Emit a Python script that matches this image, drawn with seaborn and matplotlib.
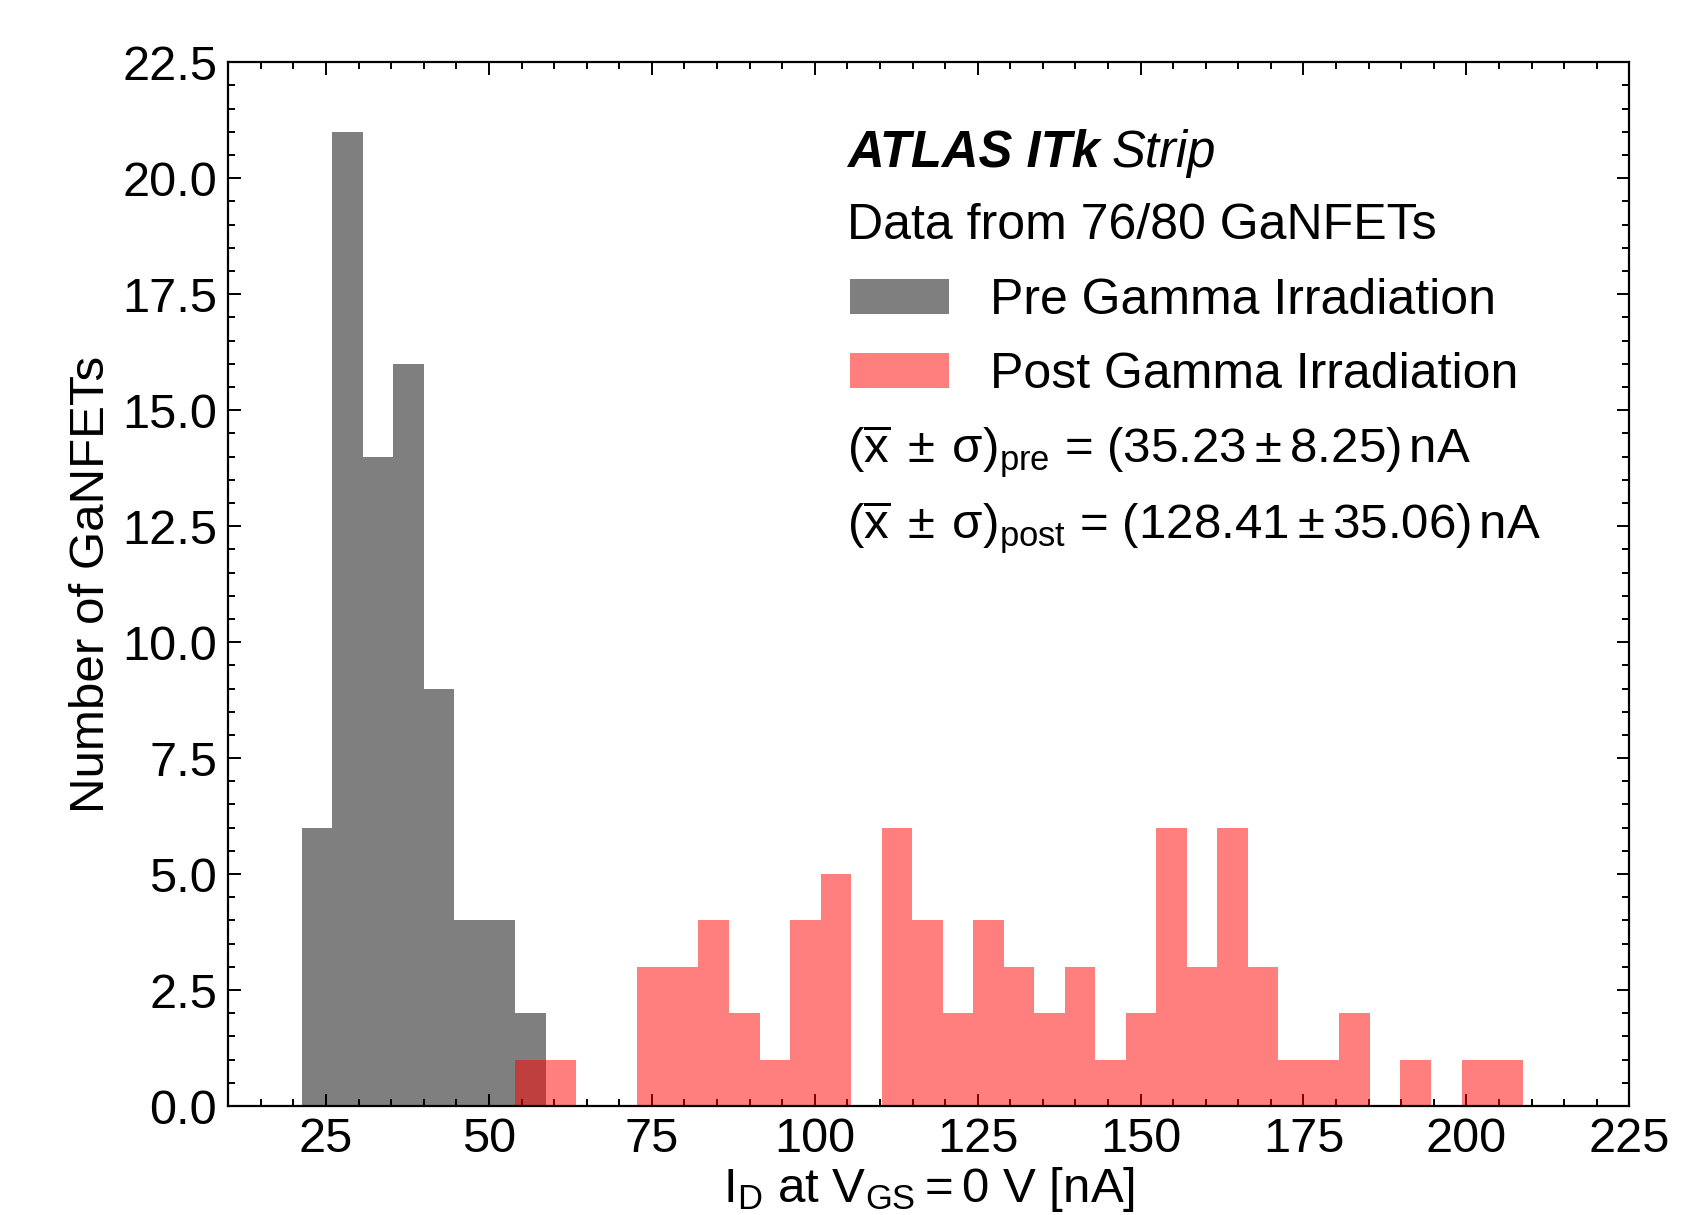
import numpy as np
import pandas as pd
import matplotlib
matplotlib.use("Agg")
import matplotlib.pyplot as plt
from matplotlib.ticker import MultipleLocator
from matplotlib.patches import Patch
import seaborn as sns

# ---- data ----
BIN_START = 21.26
BIN_WIDTH = 4.684
N_BINS = 40
pre_counts = [6, 21, 14, 16, 9, 4, 4, 2, 0, 0,
              0, 0, 0, 0, 0, 0, 0, 0, 0, 0,
              0, 0, 0, 0, 0, 0, 0, 0, 0, 0,
              0, 0, 0, 0, 0, 0, 0, 0, 0, 0]
post_counts = [0, 0, 0, 0, 0, 0, 0, 1, 1, 0,
               0, 3, 3, 4, 2, 1, 4, 5, 0, 6,
               4, 2, 4, 3, 2, 3, 1, 2, 6, 3,
               6, 3, 1, 1, 2, 0, 1, 0, 1, 1]
labels = ["Pre Gamma Irradiation", "Post Gamma Irradiation"]
stats_pre = ("35.23", "8.25")
stats_post = ("128.41", "35.06")
x_ticks = [25, 50, 75, 100, 125, 150, 175, 200, 225]
y_ticks = [0.0, 2.5, 5.0, 7.5, 10.0, 12.5, 15.0, 17.5, 20.0, 22.5]

edges = BIN_START + BIN_WIDTH * np.arange(N_BINS + 1)
centers = 0.5 * (edges[:-1] + edges[1:])
df = pd.DataFrame({"x": np.concatenate([centers, centers]),
                   "w": np.concatenate([pre_counts, post_counts]).astype(float),
                   "g": [labels[0]] * N_BINS + [labels[1]] * N_BINS})

sns.set_theme(style="white")
plt.rcParams["font.family"] = ["Liberation Sans", "DejaVu Sans"]
plt.rcParams["mathtext.fontset"] = "custom"
plt.rcParams["mathtext.rm"] = "Liberation Sans"
plt.rcParams["mathtext.it"] = "Liberation Sans"
plt.rcParams["mathtext.bf"] = "Liberation Sans:bold"
for k in ["text.color", "axes.labelcolor", "xtick.color", "ytick.color", "axes.edgecolor"]:
    plt.rcParams[k] = "black"

W, H = 1706, 1215
fig = plt.figure(figsize=(W / 100, H / 100), dpi=100)
ax = fig.add_axes([228.3 / W, 1 - 1106 / H, (1629.3 - 228.3) / W, (1106 - 62.3) / H])

brange = (float(edges[0]), float(edges[-1]))
sns.histplot(data=df[df.g == labels[0]], x="x", weights="w", bins=N_BINS,
             binrange=brange, color="black", alpha=0.5, linewidth=0, ax=ax)
sns.histplot(data=df[df.g == labels[1]], x="x", weights="w", bins=N_BINS,
             binrange=brange, color="red", alpha=0.5, linewidth=0, ax=ax)

ax.set_xlim(10, 225)
ax.set_ylim(0, 22.5)
ax.set_xticks(x_ticks)
ax.set_yticks(y_ticks)
ax.set_yticklabels([f"{v:.1f}" for v in y_ticks])
ax.xaxis.set_minor_locator(MultipleLocator(5))
ax.yaxis.set_minor_locator(MultipleLocator(0.5))
ax.tick_params(which="both", direction="in", top=True, right=True,
               bottom=True, left=True, width=1.4, colors="black")
ax.tick_params(which="major", length=9, labelsize=35, pad=8)
ax.tick_params(which="minor", length=5)
for s in ax.spines.values():
    s.set_linewidth(1.6)
    s.set_color("black")

ax.set_xlabel(r"$\mathrm{I_D}$ at $\mathrm{V_{GS} = 0\ V}$ [nA]", fontsize=35.5, labelpad=2)
ax.set_ylabel("Number of GaNFETs", fontsize=35.5, labelpad=6)

def fx(px):
    return px / W

def fy(py):
    return 1 - py / H

fig.text(fx(847), fy(153), "ATLAS ITk", fontsize=36.5, fontweight="bold",
         fontstyle="italic", va="center", ha="left")
fig.text(fx(1112), fy(153), "Strip", fontsize=36.5, fontstyle="italic",
         va="center", ha="left")
fig.text(fx(847), fy(226), "Data from 76/80 GaNFETs", fontsize=36,
         va="center", ha="left")

handles = [Patch(facecolor="black", alpha=0.5, linewidth=0),
           Patch(facecolor="red", alpha=0.5, linewidth=0)]
fig.legend(handles, labels, loc="upper left", bbox_to_anchor=(fx(850), fy(278)),
           frameon=False, fontsize=36, handlelength=1.98, handleheight=0.7,
           handletextpad=0.82, labelspacing=0.56, borderpad=0, borderaxespad=0)

fig.text(fx(847), fy(451),
         r"$(\overline{\mathrm{x}}\;\pm\:\sigma)_{\mathrm{pre}}$ = "
         + r"$(%s \pm %s)\,\mathrm{nA}$" % stats_pre,
         fontsize=35.5, va="center", ha="left")
fig.text(fx(847), fy(527),
         r"$(\overline{\mathrm{x}}\;\pm\:\sigma)_{\mathrm{post}}$ = "
         + r"$(%s \pm %s)\,\mathrm{nA}$" % stats_post,
         fontsize=35.5, va="center", ha="left")

fig.savefig("out.png", dpi=100)
